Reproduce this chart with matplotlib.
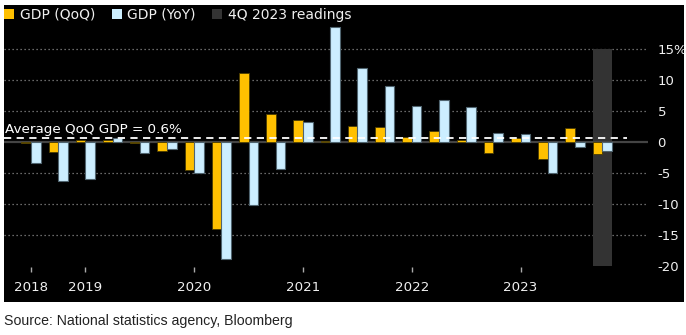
import numpy as np
import matplotlib
matplotlib.use("Agg")
import matplotlib.pyplot as plt
from matplotlib.patches import Patch

# quarterly GDP, 2018 Q3 .. 2023 Q4
quarters = ["2018Q3", "2018Q4", "2019Q1", "2019Q2", "2019Q3", "2019Q4",
            "2020Q1", "2020Q2", "2020Q3", "2020Q4", "2021Q1", "2021Q2",
            "2021Q3", "2021Q4", "2022Q1", "2022Q2", "2022Q3", "2022Q4",
            "2023Q1", "2023Q2", "2023Q3", "2023Q4"]
gdp_qoq = [-0.2, -1.6, 0.4, 0.3, -0.1, -1.5, -4.5, -14.1, 11.1, 4.5, 3.5, 0.2,
           2.6, 2.4, 0.8, 1.7, 0.4, -1.7, 0.7, -2.7, 2.2, -1.9]
gdp_yoy = [-3.4, -6.3, -5.9, 0.6, -1.8, -1.1, -5.0, -18.8, -10.2, -4.3, 3.3, 18.6,
           11.9, 9.0, 5.8, 6.8, 5.6, 1.45, 1.35, -5.0, -0.8, -1.4]
avg_qoq = 0.6
year_ticks = [0, 2, 6, 10, 14, 18]
year_labels = ["2018", "2019", "2020", "2021", "2022", "2023"]
yticks = [15, 10, 5, 0, -5, -10, -15, -20]
ytick_labels = ["15%", "10", "5", "0", "-5", "-10", "-15", "-20"]

YELLOW = "#FFC000"
BLUE = "#CCEEFF"
GREY_BOX = "#333333"
W, H = 686, 335

plt.rcParams["font.family"] = ["DejaVu Sans"]
fig = plt.figure(figsize=(W / 100, H / 100), dpi=100, facecolor="white")
ax = fig.add_axes([4 / W, (H - 302) / H, 680 / W, 297 / H], facecolor="black")

x = np.arange(len(quarters))
bw = 0.35

# pixel -> data mapping chosen to match layout
ax.set_xlim((4 - 31) / 27.2, (684 - 31) / 27.2)
ax.set_ylim(-(302 - 142) / 6.2, (142 - 5) / 6.2)
grid_end = (648 - 31) / 27.2

# 4Q 2023 highlight
ax.bar(x[-1], 35, bottom=-20, width=0.7, color=GREY_BOX, zorder=1)

for yv in [15, 10, 5, -5, -10, -15]:
    ax.hlines(yv, ax.get_xlim()[0], grid_end, colors="#8a8a8a", linestyles=(0, (1, 2.2)),
              linewidth=0.9, zorder=0.5)
ax.hlines(0, ax.get_xlim()[0], grid_end, colors="#444444", linewidth=1.6, zorder=2)

ax.bar(x - bw / 2, gdp_qoq, width=bw, color=YELLOW, edgecolor="#4a3c00", linewidth=0.6, zorder=3)
ax.bar(x + bw / 2, gdp_yoy, width=bw, color=BLUE, edgecolor="#506570", linewidth=0.8, zorder=3)

ax.hlines(avg_qoq, ax.get_xlim()[0], (627 - 31) / 27.2, colors="white",
          linestyles=(0, (4, 3)), linewidth=1.3, zorder=4)
ax.text(ax.get_xlim()[0] + 0.03, 1.45, "Average QoQ GDP = 0.6%", color="white",
        fontsize=9.7, va="baseline", ha="left", zorder=5)

# year ticks
ax.vlines(year_ticks, -20.97, -20.16, colors="#aaaaaa", linewidth=1)
ax.set_xticks(year_ticks, year_labels)
ax.tick_params(axis="x", length=0, pad=-15, labelsize=9.6, labelcolor="#f0f0f0")

ax.yaxis.tick_right()
ax.set_yticks(yticks, ytick_labels)
ax.tick_params(axis="y", length=0, pad=-19, labelsize=9.5, labelcolor="#f0f0f0")
for lab in ax.get_yticklabels():
    lab.set_horizontalalignment("left")

for s in ax.spines.values():
    s.set_visible(False)

handles = [Patch(facecolor=YELLOW), Patch(facecolor=BLUE), Patch(facecolor=GREY_BOX)]
leg = fig.legend(handles, ["GDP (QoQ)", "GDP (YoY)", "4Q 2023 readings"], ncol=3,
                 loc="center left", bbox_to_anchor=(4 / W, 1 - 14.5 / H), frameon=False,
                 fontsize=10, handlelength=0.72, handleheight=0.72, handletextpad=0.4,
                 columnspacing=1.2, borderpad=0, borderaxespad=0)
for t in leg.get_texts():
    t.set_color("#f0f0f0")

fig.text(4 / W, 1 - 321 / H, "Source: National statistics agency, Bloomberg",
         fontsize=10.2, family="Liberation Sans", color="#222222", va="center", ha="left")

fig.savefig("out.png", dpi=100, facecolor="white")
